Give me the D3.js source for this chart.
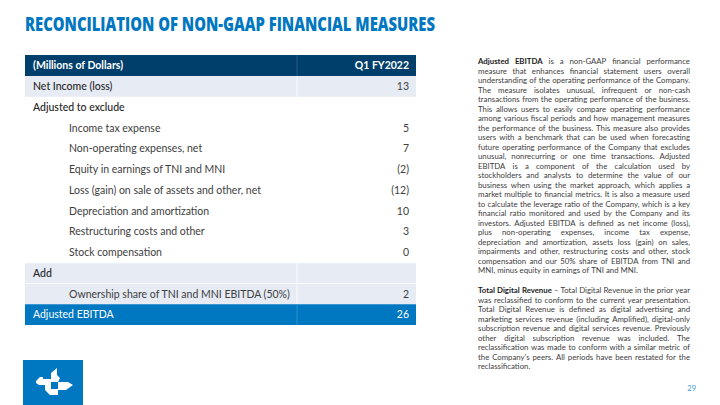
<!DOCTYPE html>
<html>
<head>
<meta charset="utf-8">
<script src="https://cdn.jsdelivr.net/npm/d3@7"></script>
<style>
  html, body { margin: 0; padding: 0; background: #ffffff; }
  svg { display: block; }
</style>
</head>
<body>
<svg id="chart" width="720" height="405"></svg>
<script>
// ---------------- DATA ----------------
const titleText = "RECONCILIATION OF NON-GAAP FINANCIAL MEASURES";
const headerLabel = "(Millions of Dollars)";
const periodLabel = "Q1 FY2022";

const rowLabels = [
  "Net Income (loss)",
  "Adjusted to exclude",
  "Income tax expense",
  "Non-operating expenses, net",
  "Equity in earnings of TNI and MNI",
  "Loss (gain) on sale of assets and other, net",
  "Depreciation and amortization",
  "Restructuring costs and other",
  "Stock compensation",
  "Add",
  "Ownership share of TNI and MNI EBITDA (50%)",
  "Adjusted EBITDA"
];
const rowValues = [13, null, 5, 7, -2, -12, 10, 3, 0, null, 2, 26];
const rowLevels = [0, 0, 1, 1, 1, 1, 1, 1, 1, 0, 1, 0];
const shadedRows = ["Net Income (loss)", "Add", "Ownership share of TNI and MNI EBITDA (50%)"];
const totalRow = "Adjusted EBITDA";

const para1Bold = "Adjusted EBITDA";
const para1Lines = [
  "Adjusted EBITDA is a non-GAAP financial performance",
  "measure that enhances financial statement users overall",
  "understanding of the operating performance of the Company.",
  "The measure isolates unusual, infrequent or non-cash",
  "transactions from the operating performance of the business.",
  "This allows users to easily compare operating performance",
  "among various fiscal periods and how management measures",
  "the performance of the business. This measure also provides",
  "users with a benchmark that can be used when forecasting",
  "future operating performance of the Company that excludes",
  "unusual, nonrecurring or one time transactions. Adjusted",
  "EBITDA is a component of the calculation used by",
  "stockholders and analysts to determine the value of our",
  "business when using the market approach, which applies a",
  "market multiple to financial metrics. It is also a measure used",
  "to calculate the leverage ratio of the Company, which is a key",
  "financial ratio monitored and used by the Company and its",
  "investors. Adjusted EBITDA is defined as net income (loss),",
  "plus non-operating expenses, income tax expense,",
  "depreciation and amortization, assets loss (gain) on sales,",
  "impairments and other, restructuring costs and other, stock",
  "compensation and our 50% share of EBITDA from TNI and",
  "MNI, minus equity in earnings of TNI and MNI."
];
const para2Bold = "Total Digital Revenue";
const para2Lines = [
  "Total Digital Revenue – Total Digital Revenue in the prior year",
  "was reclassified to conform to the current year presentation.",
  "Total Digital Revenue is defined as digital advertising and",
  "marketing services revenue (including Amplified), digital-only",
  "subscription revenue and digital services revenue. Previously",
  "other digital subscription revenue was included. The",
  "reclassification was made to conform with a similar metric of",
  "the Company's peers. All periods have been restated for the",
  "reclassification."
];
const pageNumber = "29";

// ---------------- DRAW ----------------
const svg = d3.select("#chart");
const C = {
  blue: "#0077c1",
  navy: "#003f6c",
  light: "#e6ebf4",
  dark: "#262626",
  grey: "#404040"
};

// Title
svg.append("text")
  .attr("x", 25).attr("y", 31)
  .attr("font-family", "'Open Sans', sans-serif")
  .attr("font-weight", 800)
  .attr("font-size", 19)
  .attr("fill", C.blue)
  .attr("textLength", 410)
  .attr("lengthAdjust", "spacingAndGlyphs")
  .text(titleText);

// Table
const tX0 = 25, tX1 = 416, tDiv = 297;
const headTop = 55, headBot = 76, tableBot = 325;
const y = d3.scaleBand().domain(rowLabels).range([headBot, tableBot]);
const fmt = v => v == null ? "" : (v < 0 ? "(" + Math.abs(v) + ")" : String(v));
const tableFont = "Lato, 'Open Sans', sans-serif";
const fs = 10.5;

svg.append("rect").attr("x", tX0).attr("y", headTop)
  .attr("width", tX1 - tX0).attr("height", headBot - headTop).attr("fill", C.navy);
svg.append("line").attr("x1", tDiv).attr("x2", tDiv).attr("y1", headTop).attr("y2", headBot)
  .attr("stroke", "#2d5f86").attr("stroke-width", 0.8);
svg.append("text").attr("x", 33).attr("y", (headTop + headBot) / 2)
  .attr("dy", "0.35em").attr("font-family", tableFont).attr("font-weight", 700)
  .attr("font-size", fs).attr("fill", "#ffffff").text(headerLabel);
svg.append("text").attr("x", 409).attr("y", (headTop + headBot) / 2)
  .attr("dy", "0.35em").attr("text-anchor", "end").attr("font-family", tableFont).attr("font-weight", 700)
  .attr("font-size", fs).attr("fill", "#ffffff").text(periodLabel);

const rows = svg.append("g").selectAll("g.row")
  .data(rowLabels.map((l, i) => ({ label: l, value: rowValues[i], level: rowLevels[i] })))
  .join("g").attr("class", "row");

rows.filter(d => shadedRows.includes(d.label) || d.label === totalRow)
  .append("rect")
  .attr("x", tX0).attr("y", d => y(d.label))
  .attr("width", tX1 - tX0).attr("height", y.bandwidth())
  .attr("fill", d => d.label === totalRow ? C.blue : C.light);

rows.filter(d => shadedRows.includes(d.label) || d.label === totalRow)
  .append("line")
  .attr("x1", tDiv).attr("x2", tDiv)
  .attr("y1", d => y(d.label)).attr("y2", d => y(d.label) + y.bandwidth())
  .attr("stroke", d => d.label === totalRow ? "#3b93cf" : "#ffffff").attr("stroke-width", 0.8);

rows.filter(d => shadedRows.includes(d.label) && d.label !== rowLabels[0])
  .append("line")
  .attr("x1", tX0).attr("x2", tX1)
  .attr("y1", d => y(d.label)).attr("y2", d => y(d.label))
  .attr("stroke", "#ffffff").attr("stroke-width", 0.8);

rows.append("text")
  .attr("x", d => d.level ? 69 : 33)
  .attr("y", d => y(d.label) + y.bandwidth() / 2)
  .attr("dy", "0.35em")
  .attr("font-family", tableFont)
  .attr("font-size", fs)
  .attr("font-weight", d => d.level || d.label === totalRow ? 400 : 500)
  .attr("fill", d => d.label === totalRow ? "#ffffff" : (d.level ? C.grey : C.dark))
  .text(d => d.label);

rows.append("text")
  .attr("x", 409)
  .attr("y", d => y(d.label) + y.bandwidth() / 2)
  .attr("dy", "0.35em")
  .attr("text-anchor", "end")
  .attr("font-family", tableFont)
  .attr("font-size", fs)
  .attr("fill", d => d.label === totalRow ? "#ffffff" : C.grey)
  .text(d => fmt(d.value));

// Justified paragraphs: each word is its own text element
const pX0 = 478, pX1 = 690, lineH = 9.5;
function drawParagraph(lines, boldLead, y0, size) {
  const boldWords = boldLead.split(" ").length;
  const W = pX1 - pX0;
  const g = svg.append("g").attr("font-family", tableFont).attr("font-size", size);
  const probe = g.append("text").text("a a");
  const probe2 = g.append("text").text("aa");
  const spaceW = probe.node().getComputedTextLength() - probe2.node().getComputedTextLength();
  probe.remove(); probe2.remove();
  let need = 0;
  const built = lines.map((line, li) => {
    const words = line.split(" ");
    const els = words.map((w, wi) => {
      const bold = li === 0 && wi < boldWords;
      return g.append("text")
        .attr("y", y0 + li * lineH)
        .attr("font-weight", bold ? 700 : 400)
        .attr("fill", bold ? "#1a1a1a" : C.grey)
        .text(w);
    });
    const widths = els.map(s => s.node().getComputedTextLength());
    const total = d3.sum(widths);
    const last = li === lines.length - 1;
    if (!last) need = Math.max(need, (total + (words.length - 1) * spaceW * 0.8) / W);
    return { els, widths, total, last, n: words.length };
  });
  if (need > 1) {
    g.remove();
    return drawParagraph(lines, boldLead, y0, size / need);
  }
  built.forEach(b => {
    const gap = (b.last || b.n < 2) ? spaceW : (W - b.total) / (b.n - 1);
    let x = pX0;
    b.els.forEach((s, i) => { s.attr("x", x); x += b.widths[i] + gap; });
  });
}
drawParagraph(para1Lines, para1Bold, 64, 7.8);
drawParagraph(para2Lines, para2Bold, 293, 7.8);

// Page number
svg.append("text").attr("x", 696).attr("y", 391)
  .attr("text-anchor", "end").attr("font-family", tableFont)
  .attr("font-size", 7.5).attr("fill", "#3d9ad6").text(pageNumber);

// Logo
const logo = svg.append("g").attr("transform", "translate(23,360)");
logo.append("rect").attr("width", 60).attr("height", 45).attr("fill", C.blue);
const logoPieces = [
  [[13, 21], [17, 17], [20, 17], [20, 19], [28, 19], [28, 25], [16, 25], [13, 23]],
  [[28, 13], [34, 8], [34, 15], [37, 18], [35, 22], [28, 22]],
  [[35, 22], [45, 22], [50, 25], [43, 30], [35, 30]],
  [[22, 25], [28, 25], [28, 29], [35, 29], [35, 35], [27, 35], [22, 30]]
];
logoPieces.forEach(p => {
  logo.append("path").attr("d", d3.line()(p) + "Z").attr("fill", "#ffffff");
});
</script>
</body>
</html>
